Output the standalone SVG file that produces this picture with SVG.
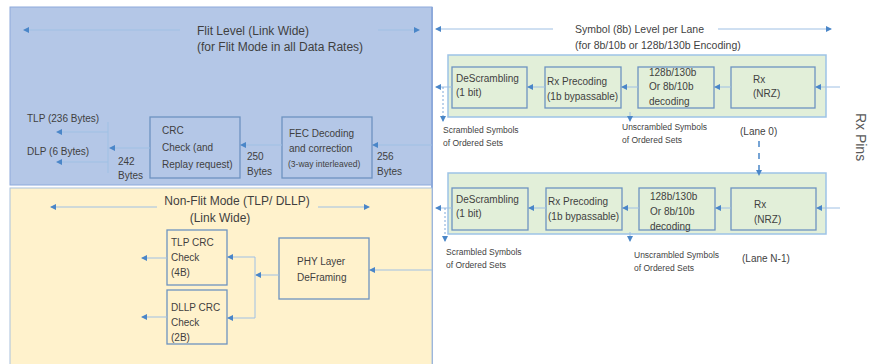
<svg xmlns="http://www.w3.org/2000/svg" width="869" height="364" viewBox="0 0 869 364">
<defs>
<marker id="ah" markerUnits="userSpaceOnUse" markerWidth="6" markerHeight="6" refX="5" refY="3" orient="auto">
<path d="M0,0 L6,3 L0,6 z" fill="#4a86c8"/>
</marker>
<style>
text{font-family:"Liberation Sans",Arial,sans-serif;fill:#3f3f3f}
.t{font-size:12px}
.st{font-size:10.5px}
.m{font-size:10px}
.s{font-size:8.5px}
.xs{font-size:8.5px}
.box{fill:none;stroke:#6d93c0;stroke-width:1.3}
.gbox{fill:#e2efd9;stroke:#6d93c0;stroke-width:1.3}
.lane{fill:#e2efd9;stroke:#9dc3e6;stroke-width:1.5}
.c{fill:none;stroke:#9fc0e4;stroke-width:1;marker-end:url(#ah)}
.cn{fill:none;stroke:#9fc0e4;stroke-width:1}
.d{fill:none;stroke:#7ea8d8;stroke-width:1;stroke-dasharray:2 2;marker-end:url(#ah)}
.dl{fill:none;stroke:#4a86c8;stroke-width:1.5;stroke-dasharray:6 6;marker-end:url(#ah)}
</style>
</defs>

<g id="flit-panel">
<rect x="10" y="7" width="422" height="178" fill="#b4c7e7" stroke="#8eaadb" stroke-width="1"/>
<line x1="432" y1="7" x2="432" y2="364" stroke="#8eaadb" stroke-width="2"/>
<text class="t" x="197" y="35">Flit Level (Link Wide)</text>
<text class="t" x="197" y="51">(for Flit Mode in all Data Rates)</text>
</g>
<g id="nonflit-panel">
<rect x="10" y="188" width="422" height="180" fill="#fff2cc" stroke="#a9c2de" stroke-width="1"/>
<text class="t" x="237" y="205" text-anchor="middle">Non-Flit Mode (TLP/ DLLP)</text>
<text class="t" x="220" y="222" text-anchor="middle">(Link Wide)</text>
</g>

<g id="crc-check">
<rect class="box" x="150" y="117" width="90" height="61"/>
<text class="m" x="162" y="134">CRC</text>
<text class="m" x="162" y="151">Check (and</text>
<text class="m" x="162" y="168">Replay request)</text>
</g>
<g id="fec-decoding">
<rect class="box" x="282" y="117" width="90" height="61"/>
<text class="m" x="289" y="137">FEC Decoding</text>
<text class="m" x="289" y="152">and correction</text>
<text class="s" x="288" y="167">(3-way interleaved)</text>
</g>
<g id="flit-labels">
<text class="m" x="27" y="122">TLP (236 Bytes)</text>
<text class="m" x="27" y="155">DLP (6 Bytes)</text>
<text class="m" x="118" y="165">242</text>
<text class="m" x="118" y="179">Bytes</text>
<text class="m" x="247" y="160">250</text>
<text class="m" x="247" y="175">Bytes</text>
<text class="m" x="377" y="160">256</text>
<text class="m" x="377" y="175">Bytes</text>
</g>

<g id="tlp-crc">
<rect class="box" x="167" y="230" width="60" height="55"/>
<text class="m" x="171" y="246">TLP CRC</text>
<text class="m" x="171" y="261">Check</text>
<text class="m" x="171" y="276">(4B)</text>
</g>
<g id="dllp-crc">
<rect class="box" x="167" y="290" width="60" height="54"/>
<text class="m" x="171" y="311">DLLP CRC</text>
<text class="m" x="171" y="326">Check</text>
<text class="m" x="171" y="341">(2B)</text>
</g>
<g id="phy-deframing">
<rect class="box" x="279" y="238" width="90" height="61"/>
<text class="m" x="297" y="265">PHY Layer</text>
<text class="m" x="297" y="281">DeFraming</text>
</g>

<g id="symbol-title">
<text class="st" x="575" y="33">Symbol (8b) Level per Lane</text>
<text class="st" x="575" y="49">(for 8b/10b or 128b/130b Encoding)</text>
</g>

<g id="lane0">
<rect class="lane" x="448" y="55" width="378" height="62"/>
<g id="lane0-descrambling">
<rect class="gbox" x="452" y="67" width="75" height="41"/>
<text class="m" x="456" y="82">DeScrambling</text>
<text class="m" x="456" y="96">(1 bit)</text>
</g>
<g id="lane0-precoding">
<rect class="gbox" x="545" y="67" width="76" height="41"/>
<text class="m" x="547" y="85">Rx Precoding</text>
<text class="m" x="547" y="100">(1b bypassable)</text>
</g>
<g id="lane0-decoding">
<rect class="gbox" x="638" y="67" width="76" height="41"/>
<text class="m" x="649" y="76">128b/130b</text>
<text class="m" x="649" y="90">Or 8b/10b</text>
<text class="m" x="649" y="105">decoding</text>
</g>
<g id="lane0-rx">
<rect class="gbox" x="731" y="67" width="84" height="41"/>
<text class="m" x="753" y="83">Rx</text>
<text class="m" x="753" y="97">(NRZ)</text>
</g>
<text class="xs" x="443" y="133">Scrambled Symbols</text>
<text class="xs" x="443" y="146">of Ordered Sets</text>
<text class="xs" x="622" y="130">Unscrambled Symbols</text>
<text class="xs" x="622" y="143">of Ordered Sets</text>
<text class="m" x="740" y="135">(Lane 0)</text>
</g>

<g id="laneN1">
<rect class="lane" x="448" y="173" width="378" height="61"/>
<g id="laneN1-descrambling">
<rect class="gbox" x="452" y="188" width="76" height="42"/>
<text class="m" x="456" y="203">DeScrambling</text>
<text class="m" x="456" y="217">(1 bit)</text>
</g>
<g id="laneN1-precoding">
<rect class="gbox" x="546" y="188" width="76" height="42"/>
<text class="m" x="548" y="205">Rx Precoding</text>
<text class="m" x="548" y="220">(1b bypassable)</text>
</g>
<g id="laneN1-decoding">
<rect class="gbox" x="639" y="188" width="76" height="42"/>
<text class="m" x="650" y="200">128b/130b</text>
<text class="m" x="650" y="215">Or 8b/10b</text>
<text class="m" x="650" y="230">decoding</text>
</g>
<g id="laneN1-rx">
<rect class="gbox" x="731" y="188" width="85" height="42"/>
<text class="m" x="754" y="208">Rx</text>
<text class="m" x="754" y="223">(NRZ)</text>
</g>
<text class="xs" x="446" y="255">Scrambled Symbols</text>
<text class="xs" x="446" y="268">of Ordered Sets</text>
<text class="xs" x="634" y="258">Unscrambled Symbols</text>
<text class="xs" x="634" y="271">of Ordered Sets</text>
<text class="m" x="742" y="262">(Lane N-1)</text>
</g>

<g id="rx-pins">
<text x="0" y="0" transform="translate(856,137) rotate(90)" text-anchor="middle" style="font-size:14px;fill:#595959">Rx Pins</text>
</g>

<g id="connectors">
<line class="c" x1="180" y1="30" x2="24" y2="30"/>
<line class="c" x1="378" y1="30" x2="419" y2="30"/>
<line class="c" x1="157" y1="207" x2="51" y2="207"/>
<line class="c" x1="318" y1="207" x2="369" y2="207"/>
<line class="c" x1="553" y1="29" x2="436" y2="29"/>
<line class="c" x1="718" y1="29" x2="831" y2="29"/>
<line class="c" x1="432" y1="145" x2="373" y2="145"/>
<line class="c" x1="282" y1="145" x2="241" y2="145"/>
<line class="c" x1="150" y1="148" x2="110" y2="148"/>
<line class="cn" x1="108" y1="122" x2="108" y2="173"/>
<line class="c" x1="108" y1="132" x2="57" y2="132"/>
<line class="c" x1="108" y1="162" x2="57" y2="162"/>
<line class="c" x1="432" y1="270" x2="370" y2="270"/>
<line class="c" x1="279" y1="275" x2="256" y2="275"/>
<line class="cn" x1="255" y1="257" x2="255" y2="318"/>
<line class="c" x1="255" y1="257" x2="228" y2="257"/>
<line class="c" x1="255" y1="318" x2="228" y2="318"/>
<line class="c" x1="167" y1="258" x2="142" y2="258"/>
<line class="c" x1="167" y1="317" x2="142" y2="317"/>
<line class="c" x1="840" y1="87" x2="816" y2="87"/>
<line class="c" x1="731" y1="87" x2="715" y2="87"/>
<line class="c" x1="638" y1="87" x2="622" y2="87"/>
<line class="c" x1="545" y1="87" x2="528" y2="87"/>
<line class="c" x1="452" y1="87" x2="436" y2="87"/>
<line class="d" x1="443" y1="87" x2="443" y2="121"/>
<line class="c" x1="630" y1="112" x2="630" y2="121"/>
<line class="dl" x1="759" y1="141" x2="759" y2="175"/>
<line class="c" x1="840" y1="208" x2="817" y2="208"/>
<line class="c" x1="731" y1="208" x2="716" y2="208"/>
<line class="c" x1="639" y1="208" x2="623" y2="208"/>
<line class="c" x1="546" y1="208" x2="529" y2="208"/>
<line class="c" x1="452" y1="208" x2="436" y2="208"/>
<line class="d" x1="445" y1="208" x2="445" y2="241"/>
<line class="c" x1="630" y1="232" x2="630" y2="241"/>
</g>
</svg>
